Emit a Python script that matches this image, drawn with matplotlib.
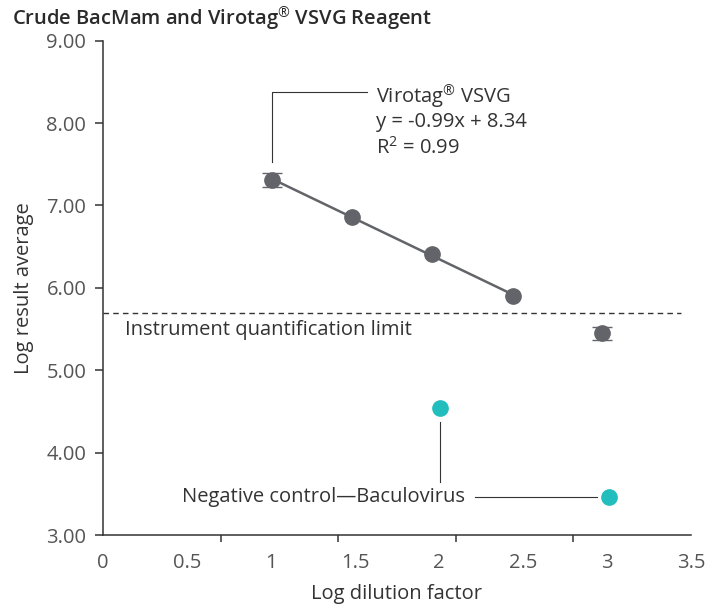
import numpy as np
import matplotlib
matplotlib.use('Agg')
import matplotlib.pyplot as plt

plt.rcParams['font.family'] = ['Open Sans', 'DejaVu Sans']
plt.rcParams['mathtext.fontset'] = 'custom'
plt.rcParams['mathtext.rm'] = 'Open Sans'
plt.rcParams['mathtext.it'] = 'Open Sans:italic'

# Virotag VSVG, log dilution vs log result average
vsvg_x = [1.008, 1.484, 1.960, 2.442, 2.972]
vsvg_y = [7.31, 6.86, 6.41, 5.90, 5.45]
vsvg_err = [0.08, 0.0, 0.0, 0.0, 0.08]
n_fit = 4  # first four points used for the regression

# negative control - baculovirus
neg_x = [2.006, 3.012]
neg_y = [4.54, 3.46]

quant_limit = 5.70

x_ticklabels = ['0', '0.5', '1', '1.5', '2', '2.5', '3', '3.5']
y_ticks = [3, 4, 5, 6, 7, 8, 9]

gray = '#636469'
teal = '#22bdbd'
txt = '#333333'
fs = 14.5

fig = plt.figure(figsize=(7.19, 6.05), dpi=100)
ax = fig.add_axes([0.1433, 0.1157, 0.8177, 0.817])

ax.set_xlim(0, 3.5)
ax.set_ylim(3, 9)

# fit line
coef = np.polyfit(vsvg_x[:n_fit], vsvg_y[:n_fit], 1)
xf = np.array([vsvg_x[0], vsvg_x[n_fit - 1]])
ax.plot(xf, np.polyval(coef, xf), color=gray, lw=1.8, zorder=2)

# error bars on points where visible
ex = [x for x, e in zip(vsvg_x, vsvg_err) if e > 0]
ey = [y for y, e in zip(vsvg_y, vsvg_err) if e > 0]
ee = [e for e in vsvg_err if e > 0]
ax.errorbar(ex, ey, yerr=ee, fmt='none', ecolor=gray, elinewidth=1,
            capsize=7, capthick=1, zorder=2)
ax.plot(vsvg_x, vsvg_y, 'o', color=gray, ms=11, zorder=3)
ax.plot(neg_x, neg_y, 'o', color=teal, ms=11, zorder=3)

# quantification limit
ax.plot([0, 3.44], [quant_limit, quant_limit], color='#333333', lw=1,
        dashes=(4, 3), zorder=1)
ax.text(0.131, quant_limit - 0.21, 'Instrument quantification limit',
        fontsize=fs, color=txt, va='center', ha='left')

# Virotag label + leader
ax.plot([vsvg_x[0], vsvg_x[0], 1.571], [vsvg_y[0] + 0.22, 8.374, 8.374],
        color='#333333', lw=0.8)
ax.text(1.625, 8.33, 'Virotag$^{\\mathrm{®}}$ VSVG', fontsize=fs,
        color=txt, va='center', ha='left')
ax.text(1.625, 8.01, 'y = -0.99x + 8.34', fontsize=fs,
        color=txt, va='center', ha='left')
ax.text(1.625, 7.695, 'R$^{\\mathrm{2}}$ = 0.99', fontsize=fs,
        color=txt, va='center', ha='left')

# negative control label + leaders
ax.plot([neg_x[0], neg_x[0]], [neg_y[0] - 0.17, 3.64], color='#333333', lw=0.8)
ax.plot([2.214, neg_x[1] - 0.07], [neg_y[1], neg_y[1]], color='#333333', lw=0.8)
ax.text(2.155, neg_y[1], 'Negative control\u2014Baculovirus', fontsize=fs,
        color=txt, va='center', ha='right')

# axes styling
for s in ['top', 'right']:
    ax.spines[s].set_visible(False)
for s in ['left', 'bottom']:
    ax.spines[s].set_color('#333333')
    ax.spines[s].set_linewidth(1.1)

ax.set_yticks(y_ticks)
ax.set_yticklabels(['%.2f' % v for v in y_ticks])
ax.tick_params(axis='y', length=6, width=1.1, color='#333333', pad=6,
               labelsize=fs, labelcolor='#555555')

ax.set_xticks(np.arange(len(x_ticklabels)) * 0.5)
ax.set_xticklabels(x_ticklabels)
ax.tick_params(axis='x', which='major', length=0, pad=13,
               labelsize=fs, labelcolor='#555555')
ax.set_xticks(np.linspace(0, 3.5, 6), minor=True)
ax.tick_params(axis='x', which='minor', length=5, width=1.1, color='#333333')

ax.set_xlabel('Log dilution factor', fontsize=fs, color=txt, labelpad=8)
ax.set_ylabel('Log result average', fontsize=fs, color=txt, labelpad=9)

fig.text(0.017, 0.970, 'Crude BacMam and Virotag$^{\\mathrm{®}}$ VSVG Reagent',
         fontsize=14.5, color='#2a2a2a', va='center', ha='left', weight='semibold')

fig.savefig('out.png', dpi=100)
